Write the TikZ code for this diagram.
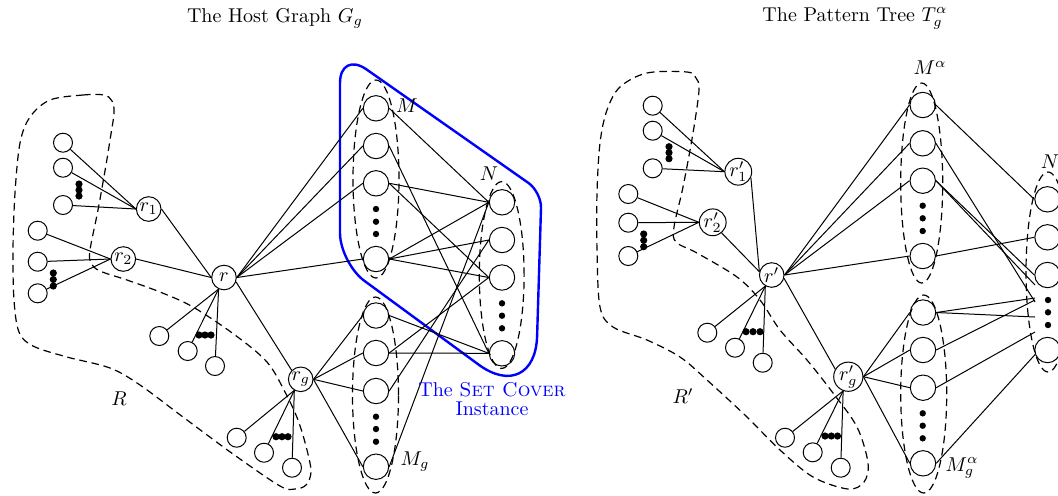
\documentclass[tikz,border=0pt]{standalone}
\begin{document}
\begin{tikzpicture}[x=0.5pt,y=-0.5pt,line width=0.5pt,
  leaf/.style={circle,draw,minimum size=9.5pt,inner sep=0pt},
  big/.style={circle,draw,minimum size=12.7pt,inner sep=0pt},
  root/.style={circle,draw,minimum size=12.3pt,inner sep=0pt},
  region/.style={line width=0.6pt,dash pattern=on 3.8pt off 2.4pt},
  cover/.style={blue,line width=1.2pt},
  lbl/.style={inner sep=0pt}]
\useasboundingbox (0,0) rectangle (1058,495);
% titles
\node[lbl] (t1) at (275,18) {The Host Graph $G_g$};
\node[lbl] (t2) at (855,18) {The Pattern Tree $T^{\alpha}_{g}$};

% ---------------- left: host graph ----------------
\draw[region] plot[smooth cycle,tension=0.55] coordinates {
 (50,100) (83,95) (104,95) (112,101) (114,113) (110,140) (106,165) (98,210)
 (90,250) (91,263) (100,271) (127,280) (160,292) (193,307) (235,335) (267,362)
 (285,392) (298,420) (307,450) (311,472) (306,485) (295,489) (280,486) (233,454)
 (183,417) (140,385) (110,368) (67,357) (33,346) (19,332) (14,300) (13,250)
 (15,193) (20,143) (30,117)};
\draw[region] (376,179) ellipse [x radius=11.5pt,y radius=49.5pt];
\draw[region] (501.7,275) ellipse [x radius=11.2pt,y radius=46.7pt];
\draw[region] (375.5,395) ellipse [x radius=11.5pt,y radius=49pt];
\draw[cover] (340,157) -- (340,83) .. controls (340,65.3) and (351.8,59.2) .. (366.2,69.2)
  -- (528.4,182.9) .. controls (535.6,187.9) and (541.3,199.2) .. (541,208)
  -- (537.1,336) .. controls (536,374.5) and (509.6,387.4) .. (478.6,364.6)
  -- (364.2,280.7) .. controls (351.1,271) and (340,249.5) .. (340,233) -- cycle;

\node[leaf] (a1) at (63,142.7) {};
\node[leaf] (a2) at (63,167.7) {};
\node[leaf] (a3) at (63,205) {};
\node[leaf] (b1) at (37.7,230.7) {};
\node[leaf] (b2) at (37.7,261.7) {};
\node[leaf] (b3) at (37.7,293.3) {};
\node[root] (r1) at (148.7,209) {$r_1$};
\node[root] (r2) at (123.3,259) {$r_2$};
\node[root] (r) at (224,277.5) {$r$};
\node[leaf] (c1) at (159.3,336) {};
\node[leaf] (c2) at (187.7,351) {};
\node[leaf] (c3) at (215,366) {};
\node[root] (rg) at (300.7,379.3) {$r_g$};
\node[leaf] (d1) at (236.7,437.7) {};
\node[leaf] (d2) at (264,452.7) {};
\node[leaf] (d3) at (292,467.7) {};
\node[big] (M1) at (376,108.3) {};
\node[big] (M2) at (376,146) {};
\node[big] (M3) at (376,183.3) {};
\node[big] (M4) at (376,259) {};
\node[big] (N1) at (502,202.3) {};
\node[big] (N2) at (502,240) {};
\node[big] (N3) at (502,277.5) {};
\node[big] (N4) at (502,353.3) {};
\node[big] (G1) at (376,315.5) {};
\node[big] (G2) at (376,353) {};
\node[big] (G3) at (376,391) {};
\node[big] (G4) at (376,466.7) {};

\foreach \y in {184,190,196} \fill (79,\y) circle (1.8pt);
\foreach \y in {273,279.5,286} \fill (53.3,\y) circle (1.8pt);
\foreach \x in {199,205,211} \fill (\x,335) circle (1.8pt);
\foreach \x in {276,282,288} \fill (\x,436.7) circle (1.8pt);
\foreach \y in {209,221.7,234} \fill (376,\y) circle (1.6pt);
\foreach \y in {303.3,315.7,328.3} \fill (502,\y) circle (1.6pt);
\foreach \y in {416.7,429,441.7} \fill (376,\y) circle (1.6pt);

\foreach \n in {a1,a2,a3} \draw (\n) -- (r1.west);
\foreach \n in {b1,b2,b3} \draw (\n) -- (r2.west);
\draw (r1.east) -- (r.west);
\draw (r2.east) -- (r.west);
\foreach \n in {c1,c2,c3} \draw (r.245) -- (\n);
\draw (r.-20) -- (rg.north west);
\foreach \n in {d1,d2,d3} \draw (rg.240) -- (\n);
\foreach \n in {M1,M2,M3,M4} \draw (r.east) -- (\n.west);
\foreach \n in {G1,G2,G3,G4} \draw (rg.east) -- (\n.west);
\draw (M1.east) -- (N1.west);
\draw (M2.east) -- (N4.west);
\draw (M3.east) -- (N1.west);
\draw (M3.east) -- (N3.west);
\draw (M4.east) -- (N1.west);
\draw (M4.east) -- (N2.west);
\draw (M4.east) -- (N3.west);
\draw (G1.east) -- (N4.west);
\draw (G2.east) -- (N4.west);
\draw (G2.east) -- (N3.west);
\draw (G3.east) -- (N2.west);
\draw (G4.east) -- (N1.west);

\node[lbl] (lM) at (407,106) {$M$};
\node[lbl] (lN) at (489,174) {$N$};
\node[lbl] (lMg) at (415,462) {$M_g$};
\node[lbl] (lR) at (119,399) {$R$};
\node[lbl,blue,align=center] (lSC) at (492,399) {The \textsc{Set Cover}\\[-2.5pt]Instance};

% ---------------- right: pattern tree ----------------
\draw[region] plot[smooth cycle,tension=0.55] coordinates {
 (620,87) (647,73) (687,72) (696,78) (699,90) (693,133) (683,187) (674,227)
 (676,242) (697,253) (737,277) (760,300) (780,330) (807,360) (833,393) (857,427)
 (868,463) (864,482) (848,489) (813,477) (780,450) (747,417) (707,380) (680,357)
 (647,340) (613,327) (600,307) (597,250) (597,193) (600,143) (607,110)};
\draw[region] (921.7,183) ellipse [x radius=10.5pt,y radius=50pt];
\draw[region] (923.7,394) ellipse [x radius=11.5pt,y radius=49.5pt];
\draw[region] (1048,272) ellipse [x radius=11pt,y radius=50pt];

\node[leaf] (e1) at (652.7,105.7) {};
\node[leaf] (e2) at (652.7,130.7) {};
\node[leaf] (e3) at (652.7,168.3) {};
\node[leaf] (f1) at (628.3,194) {};
\node[leaf] (f2) at (628.3,222.7) {};
\node[leaf] (f3) at (628.3,256) {};
\node[root] (s1) at (738.3,171.7) {$r'_1$};
\node[root] (s2) at (712.7,222.3) {$r'_2$};
\node[root] (s) at (771.7,275) {$r'$};
\node[leaf] (h1) at (707.3,332.7) {};
\node[leaf] (h2) at (735,347.7) {};
\node[leaf] (h3) at (762.7,362.7) {};
\node[root] (sg) at (848.3,376.7) {$r'_g$};
\node[leaf] (k1) at (785,437.7) {};
\node[leaf] (k2) at (812.7,452.3) {};
\node[leaf] (k3) at (840.7,467.7) {};
\node[big] (P1) at (922.7,105) {};
\node[big] (P2) at (922.7,143.3) {};
\node[big] (P3) at (922.7,180.7) {};
\node[big] (P4) at (922.7,256) {};
\node[big] (Q1) at (1047.5,199.3) {};
\node[big] (Q2) at (1047.5,237.3) {};
\node[big] (Q3) at (1047.5,275) {};
\node[big] (Q4) at (1047.5,350) {};
\node[big] (H1) at (923,312.5) {};
\node[big] (H2) at (923,350) {};
\node[big] (H3) at (923,387.7) {};
\node[big] (H4) at (923,463.3) {};
\coordinate (x1) at (1035,285);
\coordinate (x2) at (1035,302);
\coordinate (x3) at (1035,298);
\coordinate (x4) at (1035,317);
\coordinate (x5) at (1035,300);
\coordinate (x6) at (1035,332);

\foreach \y in {146.7,152.7,158.7} \fill (669,\y) circle (1.8pt);
\foreach \y in {234,240.3,246.7} \fill (643.7,\y) circle (1.8pt);
\foreach \x in {746,753,760} \fill (\x,331.7) circle (1.8pt);
\foreach \x in {825,831.3,837.5} \fill (\x,436) circle (1.8pt);
\foreach \y in {205.7,218.3,231} \fill (922.7,\y) circle (1.6pt);
\foreach \y in {300,312.3,325} \fill (1048,\y) circle (1.6pt);
\foreach \y in {413.3,425.7,438.3} \fill (922.7,\y) circle (1.6pt);

\foreach \n in {e1,e2,e3} \draw (\n) -- (s1.west);
\foreach \n in {f1,f2,f3} \draw (\n) -- (s2.west);
\draw (s1.-25) -- (s.165);
\draw (s2.-50) -- (s.165);
\foreach \n in {h1,h2,h3} \draw (s.240) -- (\n);
\draw (s.-15) -- (sg.150);
\foreach \n in {k1,k2,k3} \draw (sg.250) -- (\n);
\foreach \n in {P1,P2,P3,P4} \draw (s.east) -- (\n.west);
\foreach \n in {H1,H2,H3,H4} \draw (sg.east) -- (\n.west);
\draw (P1.east) -- (Q1.west);
\draw (P2.east) -- (x2);
\draw (P3.east) -- (Q3.west);
\draw (P3.east) -- (x1);
\draw (P4.east) -- (Q2.west);
\draw (H1.east) -- (x3);
\draw (H1.east) -- (x4);
\draw (H2.east) -- (x5);
\draw (H3.east) -- (x6);
\draw (H4.east) -- (Q4.200);

\node[lbl] (lMa) at (930,68) {$M^{\alpha}$};
\node[lbl] (lMga) at (962,468) {$M^{\alpha}_{g}$};
\node[lbl] (lRa) at (683,396) {$R'$};
\node[lbl] (lNa) at (1050,162) {$N$};
\end{tikzpicture}
\end{document}
